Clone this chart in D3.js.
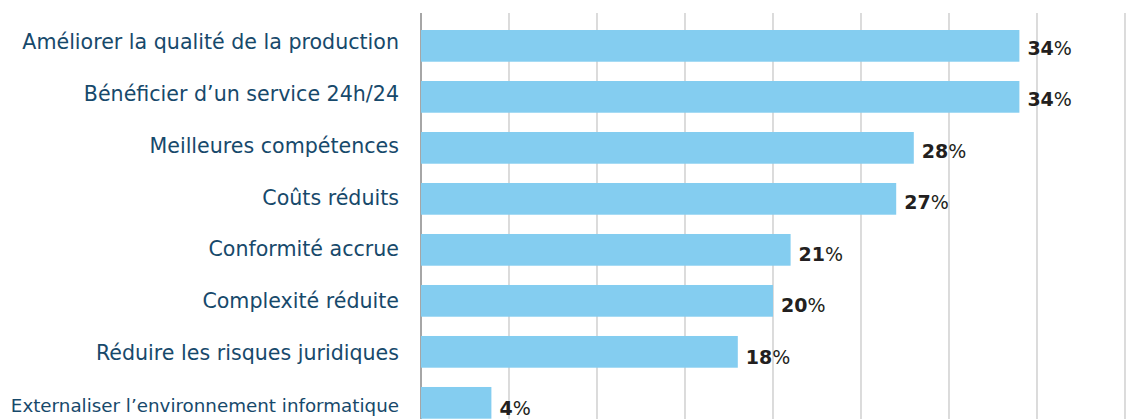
<!DOCTYPE html>
<html><head><meta charset="utf-8">
<script src="https://cdn.jsdelivr.net/npm/d3@7"></script>
<style>html,body{margin:0;padding:0;background:#fff;}svg{display:block;}</style>
</head><body>
<div id="chart"></div>
<script>
const categories = [
  "Améliorer la qualité de la production",
  "Bénéficier d’un service 24h/24",
  "Meilleures compétences",
  "Coûts réduits",
  "Conformité accrue",
  "Complexité réduite",
  "Réduire les risques juridiques",
  "Externaliser l’environnement informatique"
];
const values = [34, 34, 28, 27, 21, 20, 18, 4];
const gridTicks = [0, 5, 10, 15, 20, 25, 30, 35, 40];

const W = 1127, H = 419;
const svg = d3.select("#chart").append("svg").attr("width", W).attr("height", H);

const x = d3.scaleLinear().domain([0, 40]).range([421, 1125]);
const y = d3.scaleBand().domain(categories).range([30, 418.7]).paddingInner(0.378).paddingOuter(0);
const yLab = d3.scalePoint().domain(categories).range([49, 412]);
const yVal = d3.scalePoint().domain(categories).range([55, 415]);

// gridlines
svg.append("g").selectAll("line").data(gridTicks).join("line")
  .attr("x1", d => x(d)).attr("x2", d => x(d))
  .attr("y1", 13).attr("y2", H)
  .attr("stroke", d => d === 0 ? "#a6a6a6" : "#c4c4c4")
  .attr("stroke-width", d => d === 0 ? 2 : 1.2);

// bars
svg.append("g").selectAll("rect").data(categories).join("rect")
  .attr("x", x(0)).attr("y", (d) => y(d))
  .attr("width", (d, i) => x(values[i]) - x(0))
  .attr("height", y.bandwidth())
  .attr("fill", "#84cdf0");

// category labels
const fontFam = "'DejaVu Sans', sans-serif";
svg.append("g").selectAll("text").data(categories).join("text")
  .attr("x", 399).attr("y", d => yLab(d))
  .attr("text-anchor", "end")
  .attr("font-family", fontFam)
  .attr("font-size", (d, i) => i === 7 ? 18.3 : 20.6)
  .attr("fill", "#17496b")
  .text(d => d);

// value labels
const vl = svg.append("g").selectAll("text").data(categories).join("text")
  .attr("x", (d, i) => x(values[i]) + 8).attr("y", d => yVal(d))
  .attr("font-family", fontFam)
  .attr("font-size", 19)
  .attr("fill", "#231f20");
vl.append("tspan").attr("font-weight", "bold").text((d, i) => values[i]);
vl.append("tspan").attr("font-weight", "normal").text("%");
</script>
</body></html>
